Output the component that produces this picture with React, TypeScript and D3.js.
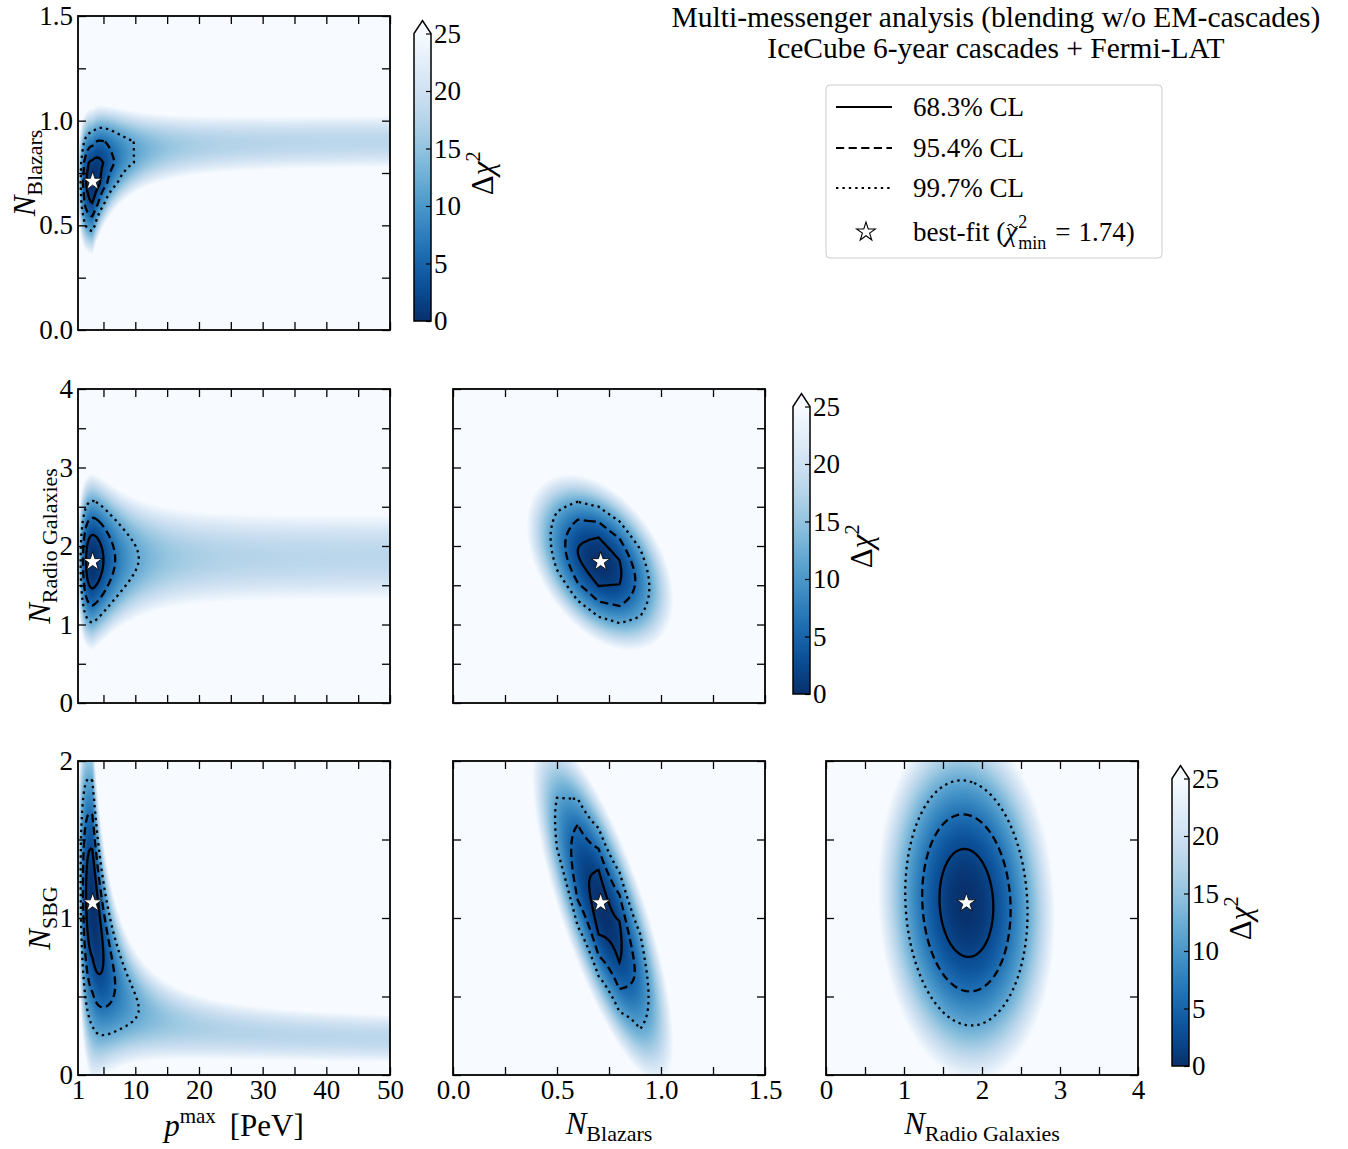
import React, { useRef, useEffect } from "react";
import * as d3 from "d3";

// ---- values ----
// parameters: p_max [PeV], N_Blazars, N_Radio Galaxies, N_SBG
const paramDomains: [number, number][] = [[1, 50], [0, 1.5], [0, 4], [0, 2]];
const paramTickStep = [5, 0.25, 0.5, 0.5];
const paramLabelTicks = [
  [1, 10, 20, 30, 40, 50],
  [0, 0.5, 1, 1.5],
  [0, 1, 2, 3, 4],
  [0, 1, 2],
];
const paramLabelFormat = ["d", ".1f", "d", "d"];
const paramSubscripts = ["", "Blazars", "Radio Galaxies", "SBG"];
const scanStep = [0.25, 0.1, 0.04, 0.02]; // grid spacing of the chi2 scan
const bestFit = [3.3, 0.71, 1.8, 1.096];

const clLabels = ["68.3% CL", "95.4% CL", "99.7% CL"];
const clDeltaChi2 = [2.3, 6.18, 11.83];
const clDash = ["none", "8.2,4.4", "2.4,4"];

const chi2Max = 25;
const cbarTicks = [0, 5, 10, 15, 20, 25];

// p_max profiles (rows: Blazars, Radio Galaxies, SBG)
const ridgeAtBest = [0.71, 1.8, 1.09];
const ridgeHighP = [0.91, 1.86, 0.2];
const widthAtBest = [0.07, 0.225, 0.227];
const widthHighP = [0.045, 0.2, 0.05];
const ridgeFalloff = [1.1, 1.1, 1.2];
const ridgeSlopeLowP = [0, 0, 0.2];
const plateauChi2 = [18, 18, 18];
const pmaxWidthLow = 0.249; // in ln(p)
const pmaxWidthHigh = 0.115; // in log10(p)

// normalisation pairs [x, y]
const pairs = [[1, 2], [1, 3], [2, 3]];
const pairCenters = [[0.707, 1.79], [0.72, 1.05], [1.8, 1.096]];
const pairSigmas = [[0.0707, 0.225], [0.068, 0.22], [0.228, 0.227]];
const pairRho = [-0.42, -0.78, -0.08];

// ---- layout ----
const FONT = "'Liberation Serif', 'DejaVu Serif', serif";
const colLeft = [78, 453, 826];
const rowTop = [16, 389, 761];
const panelW = 312;
const panelH = 314;
const cbarLeft = [414, 793, 1172];
const cbarW = 17;
const yLabelX = [35, 50, 50];
const tickFont = 27;
const starSize = 110;

function makeField(xi: number, yi: number) {
  if (xi === 0) {
    const k = yi - 1;
    const p0 = bestFit[0];
    return (p: number, y: number) => {
      let a, m, s;
      if (p < p0) {
        const u = Math.log(p0 / p) / pmaxWidthLow;
        a = u * u;
        m = ridgeAtBest[k] + ridgeSlopeLowP[k] * Math.log(p0 / p);
        s = widthAtBest[k];
      } else {
        const q = (Math.log10(p / p0) / pmaxWidthHigh) ** 2;
        a = plateauChi2[k] * (1 - Math.exp(-q / plateauChi2[k]));
        const r = Math.pow(p0 / p, ridgeFalloff[k]);
        m = ridgeHighP[k] + (ridgeAtBest[k] - ridgeHighP[k]) * r;
        s = widthHighP[k] + (widthAtBest[k] - widthHighP[k]) * r;
      }
      const v = (y - m) / s;
      return a + v * v;
    };
  }
  const k = pairs.findIndex(([a, b]) => a === xi && b === yi);
  const [cx, cy] = pairCenters[k];
  const [sx, sy] = pairSigmas[k];
  const rho = pairRho[k];
  return (x: number, y: number) => {
    const u = (x - cx) / sx;
    const v = (y - cy) / sy;
    return (u * u - 2 * rho * u * v + v * v) / (1 - rho * rho);
  };
}

const dashFor = (value: number) =>
  clDash[d3.minIndex(clDeltaChi2, (v) => Math.abs(v + value))];

const App = () => {
  const svgRef = useRef<SVGSVGElement>(null);

  useEffect(() => {
    const svg = d3.select(svgRef.current);
    svg.selectAll("*").remove();
    svg.attr("font-family", FONT);
    const defs = svg.append("defs");

    const lut = d3.range(256).map((i) => d3.rgb(d3.interpolateBlues(1 - i / 255)));

    // colorbar gradient
    const grad = defs
      .append("linearGradient")
      .attr("id", "cbar")
      .attr("x1", 0)
      .attr("y1", 1)
      .attr("x2", 0)
      .attr("y2", 0);
    d3.range(0, 21).forEach((i) => {
      grad
        .append("stop")
        .attr("offset", i / 20)
        .attr("stop-color", d3.interpolateBlues(1 - i / 20));
    });

    for (let r = 0; r < 3; r++) {
      for (let c = 0; c <= r; c++) {
        const xi = c;
        const yi = r + 1;
        const field = makeField(xi, yi);
        const x = d3.scaleLinear().domain(paramDomains[xi]).range([0, panelW]);
        const y = d3.scaleLinear().domain(paramDomains[yi]).range([panelH, 0]);
        const g = svg
          .append("g")
          .attr("transform", `translate(${colLeft[c]},${rowTop[r]})`);

        // heat map
        const canvas = document.createElement("canvas");
        canvas.width = panelW;
        canvas.height = panelH;
        const ctx = canvas.getContext("2d")!;
        const img = ctx.createImageData(panelW, panelH);
        for (let j = 0; j < panelH; j++) {
          const yv = y.invert(j + 0.5);
          for (let i = 0; i < panelW; i++) {
            const v = field(x.invert(i + 0.5), yv);
            const col = lut[Math.round((Math.min(v, chi2Max) / chi2Max) * 255)];
            const o = (j * panelW + i) * 4;
            img.data[o] = col.r;
            img.data[o + 1] = col.g;
            img.data[o + 2] = col.b;
            img.data[o + 3] = 255;
          }
        }
        ctx.putImageData(img, 0, 0);
        g.append("image")
          .attr("href", canvas.toDataURL())
          .attr("width", panelW)
          .attr("height", panelH)
          .attr("preserveAspectRatio", "none");

        // contours from the scan grid
        const clipId = `clip-${r}-${c}`;
        defs
          .append("clipPath")
          .attr("id", clipId)
          .append("rect")
          .attr("width", panelW)
          .attr("height", panelH);
        const [x0, x1] = paramDomains[xi];
        const [y0, y1] = paramDomains[yi];
        const sx = scanStep[xi];
        const sy = scanStep[yi];
        const nx = Math.round((x1 - x0) / sx) + 1;
        const ny = Math.round((y1 - y0) / sy) + 1;
        const values = new Array(nx * ny);
        for (let j = 0; j < ny; j++)
          for (let i = 0; i < nx; i++)
            values[j * nx + i] = -field(x0 + i * sx, y0 + j * sy);
        const contours = d3
          .contours()
          .size([nx, ny])
          .thresholds(clDeltaChi2.map((v) => -v))(values);
        const path = d3.geoPath(
          d3.geoTransform({
            point: function (gx: number, gy: number) {
              this.stream.point(x(x0 + (gx - 0.5) * sx), y(y0 + (gy - 0.5) * sy));
            },
          })
        );
        g.append("g")
          .attr("clip-path", `url(#${clipId})`)
          .selectAll("path")
          .data(contours)
          .join("path")
          .attr("d", path)
          .attr("fill", "none")
          .attr("stroke", "#000")
          .attr("stroke-width", 2.3)
          .attr("stroke-dasharray", (d) => dashFor(d.value));

        // best-fit star
        g.append("path")
          .attr("d", d3.symbol().type(d3.symbolStar).size(starSize)())
          .attr("transform", `translate(${x(bestFit[xi])},${y(bestFit[yi])})`)
          .attr("fill", "#fff")
          .attr("stroke", "#000")
          .attr("stroke-width", 0.8);

        // ticks, inward on all sides
        const step = (i: number) =>
          d3.range(
            paramTickStep[i] * Math.ceil(paramDomains[i][0] / paramTickStep[i]),
            paramDomains[i][1] + 1e-9,
            paramTickStep[i]
          );
        const tickStyle = (sel: any) => {
          sel.select(".domain").remove();
          sel.selectAll("line").attr("stroke-width", 1.3);
        };
        g.append("g")
          .attr("transform", `translate(0,${panelH})`)
          .call(d3.axisBottom(x).tickValues(step(xi)).tickSize(-8).tickFormat(() => ""))
          .call(tickStyle);
        g.append("g")
          .call(d3.axisTop(x).tickValues(step(xi)).tickSize(-8).tickFormat(() => ""))
          .call(tickStyle);
        g.append("g")
          .call(d3.axisLeft(y).tickValues(step(yi)).tickSize(-8).tickFormat(() => ""))
          .call(tickStyle);
        g.append("g")
          .attr("transform", `translate(${panelW},0)`)
          .call(d3.axisRight(y).tickValues(step(yi)).tickSize(-8).tickFormat(() => ""))
          .call(tickStyle);

        if (r === 2) {
          g.append("g")
            .attr("transform", `translate(0,${panelH})`)
            .call(
              d3
                .axisBottom(x)
                .tickValues(paramLabelTicks[xi])
                .tickSize(0)
                .tickPadding(5)
                .tickFormat(d3.format(paramLabelFormat[xi]) as any)
            )
            .call((s) => s.select(".domain").remove())
            .attr("font-family", FONT)
            .attr("font-size", tickFont);
        }
        if (c === 0) {
          g.append("g")
            .call(
              d3
                .axisLeft(y)
                .tickValues(paramLabelTicks[yi])
                .tickSize(0)
                .tickPadding(5)
                .tickFormat(d3.format(paramLabelFormat[yi]) as any)
            )
            .call((s) => s.select(".domain").remove())
            .attr("font-family", FONT)
            .attr("font-size", tickFont);
        }

        g.append("rect")
          .attr("width", panelW)
          .attr("height", panelH)
          .attr("fill", "none")
          .attr("stroke", "#000")
          .attr("stroke-width", 1.8);
      }

      // y-axis label (first column)
      const yl = svg
        .append("text")
        .attr("text-anchor", "middle")
        .attr("transform", `translate(${yLabelX[r]},${rowTop[r] + panelH / 2}) rotate(-90)`);
      yl.append("tspan").attr("font-style", "italic").attr("font-size", 31).text("N");
      yl.append("tspan").attr("font-size", 22).attr("dy", 7).text(paramSubscripts[r + 1]);

      // colorbar
      const bx = cbarLeft[r];
      const top = rowTop[r] + 17.5;
      const bottom = rowTop[r] + panelH - 9;
      const cb = svg.append("g");
      cb.append("rect")
        .attr("x", bx)
        .attr("y", top)
        .attr("width", cbarW)
        .attr("height", bottom - top)
        .attr("fill", "url(#cbar)");
      cb.append("path")
        .attr("d", `M${bx},${top}L${bx + cbarW / 2},${top - 13}L${bx + cbarW},${top}Z`)
        .attr("fill", d3.interpolateBlues(0));
      cb.append("path")
        .attr(
          "d",
          `M${bx},${bottom}L${bx},${top}L${bx + cbarW / 2},${top - 13}L${bx + cbarW},${top}L${bx + cbarW},${bottom}Z`
        )
        .attr("fill", "none")
        .attr("stroke", "#000")
        .attr("stroke-width", 1.5);
      const cScale = d3.scaleLinear().domain([0, chi2Max]).range([bottom, top]);
      cb.append("g")
        .attr("transform", `translate(${bx + cbarW},0)`)
        .call(d3.axisRight(cScale).tickValues(cbarTicks).tickSize(-5).tickPadding(3))
        .call((s) => s.select(".domain").remove())
        .call((s) => s.selectAll("line").attr("stroke-width", 1.2))
        .attr("font-family", FONT)
        .attr("font-size", tickFont);
      const cl = cb
        .append("text")
        .attr("text-anchor", "middle")
        .attr("transform", `translate(${bx + cbarW + 62},${(top + bottom) / 2 - 4}) rotate(-90)`)
        .attr("font-size", 31);
      cl.append("tspan").text("Δ");
      cl.append("tspan").attr("font-style", "italic").text("χ");
      cl.append("tspan").attr("font-size", 21).attr("dy", -13).text("2");
    }

    // x-axis labels (bottom row)
    const xLabelY = 1136;
    const pl = svg
      .append("text")
      .attr("text-anchor", "middle")
      .attr("x", colLeft[0] + panelW / 2)
      .attr("y", xLabelY)
      .attr("font-size", 31);
    pl.append("tspan").attr("font-style", "italic").text("p");
    pl.append("tspan").attr("font-size", 21).attr("dy", -13).text("max");
    pl.append("tspan").attr("dy", 13).attr("dx", 14).text("[PeV]");
    [1, 2].forEach((pi) => {
      const t = svg
        .append("text")
        .attr("text-anchor", "middle")
        .attr("x", colLeft[pi] + panelW / 2)
        .attr("y", xLabelY - 2);
      t.append("tspan").attr("font-style", "italic").attr("font-size", 31).text("N");
      t.append("tspan").attr("font-size", 22).attr("dy", 7).text(paramSubscripts[pi]);
    });

    // title
    svg
      .append("text")
      .attr("x", 996)
      .attr("y", 27)
      .attr("text-anchor", "middle")
      .attr("font-size", 29.5)
      .text("Multi-messenger analysis (blending w/o EM-cascades)");
    svg
      .append("text")
      .attr("x", 996)
      .attr("y", 58)
      .attr("text-anchor", "middle")
      .attr("font-size", 29.5)
      .text("IceCube 6-year cascades + Fermi-LAT");

    // legend
    const lg = svg.append("g").attr("transform", "translate(826,85)");
    lg.append("rect")
      .attr("width", 336)
      .attr("height", 173)
      .attr("rx", 4)
      .attr("fill", "#fff")
      .attr("stroke", "#cccccc")
      .attr("stroke-width", 1);
    const rowsY = [22, 63, 103];
    const legendFont = 27;
    clLabels.forEach((lab, i) => {
      lg.append("line")
        .attr("x1", 10)
        .attr("x2", 66)
        .attr("y1", rowsY[i])
        .attr("y2", rowsY[i])
        .attr("stroke", "#000")
        .attr("stroke-width", 2.2)
        .attr("stroke-dasharray", clDash[i]);
      lg.append("text")
        .attr("x", 87)
        .attr("y", rowsY[i] + 9)
        .attr("font-size", legendFont)
        .text(lab);
    });
    lg.append("path")
      .attr("d", d3.symbol().type(d3.symbolStar).size(starSize)())
      .attr("transform", "translate(40,147)")
      .attr("fill", "#fff")
      .attr("stroke", "#000")
      .attr("stroke-width", 1.1);

    // "best-fit (chi~^2_min = 1.74)", pieces placed by measured width
    const base = 156;
    let cx = 87;
    const piece = (txt: string, size: number, dy: number, italic = false) => {
      const t = lg
        .append("text")
        .attr("x", cx)
        .attr("y", base + dy)
        .attr("font-size", size)
        .attr("font-style", italic ? "italic" : "normal")
        .text(txt);
      return (t.node() as SVGTextElement).getComputedTextLength();
    };
    cx += piece("best-fit (", legendFont, 0);
    const chiW = piece("χ", legendFont, 0, true);
    const tx = cx + chiW / 2 + 1.5;
    lg.append("path")
      .attr("d", `M${tx - 5},${base - 15}q2.5,-3.2 5,0t5,0`)
      .attr("fill", "none")
      .attr("stroke", "#000")
      .attr("stroke-width", 1.1);
    cx += chiW + 1;
    const supW = piece("2", 18, -13);
    const subW = piece("min", 18, 8);
    cx += Math.max(supW, subW) + 9;
    cx += piece("=", legendFont, 0) + 8;
    piece("1.74)", legendFont, 0);
  }, []);

  return (
    <svg
      ref={svgRef}
      width={1348}
      height={1149}
      style={{ position: "absolute", left: 0, top: 0, background: "#fff" }}
    />
  );
};

export default App;
